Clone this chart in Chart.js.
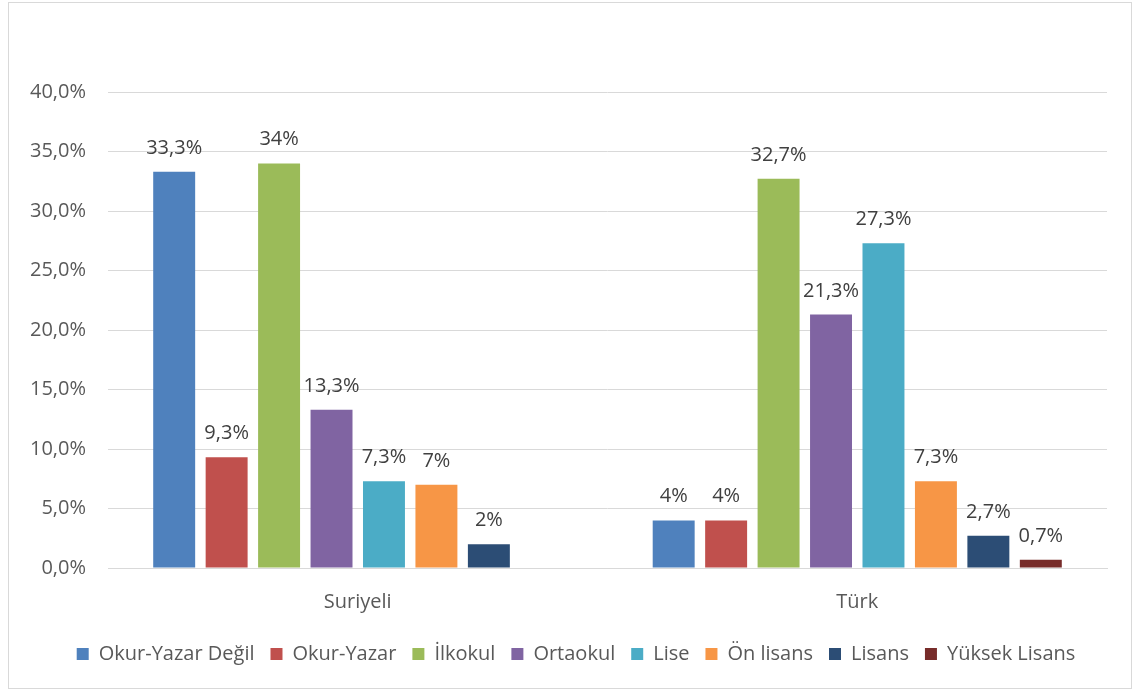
<!DOCTYPE html>
<html>
<head>
<meta charset="utf-8">
<script src="https://cdn.jsdelivr.net/npm/chart.js@4.4.0/dist/chart.umd.min.js"></script>
<style>
  html, body { margin: 0; padding: 0; background: #fff; }
  #wrap {
    position: absolute; left: 8px; top: 2px; width: 1124px; height: 687px;
    border: 1px solid #d9d9d9; box-sizing: border-box;
  }
  canvas { display: block; }
</style>
</head>
<body>
<div id="wrap"><canvas id="myChart"></canvas></div>
<script>
const categories = ["Suriyeli", "Türk"];
const seriesNames = ["Okur-Yazar Değil", "Okur-Yazar", "İlkokul", "Ortaokul", "Lise", "Ön lisans", "Lisans", "Yüksek Lisans"];
const seriesColors = ["#4F81BD", "#C0504D", "#9BBB59", "#8064A2", "#4BACC6", "#F79646", "#2C4D75", "#772C2A"];
// values in percent, [Suriyeli, Türk]
const okurYazarDegil = [33.3, 4];
const okurYazar = [9.3, 4];
const ilkokul = [34, 32.7];
const ortaokul = [13.3, 21.3];
const lise = [7.3, 27.3];
const onLisans = [7, 7.3];
const lisans = [2, 2.7];
const yuksekLisans = [null, 0.7];
const seriesValues = [okurYazarDegil, okurYazar, ilkokul, ortaokul, lise, onLisans, lisans, yuksekLisans];

const textColor = "#595959";
const fontFamily = "'Open Sans', 'Noto Sans', sans-serif";
const fontSize = 20;

function fmtLabel(v) {
    let s = (Math.round(v * 10) / 10).toString().replace('.', ',');
    return s + "%";
}

// draw value labels above the bars (no datalabels plugin available)
const barLabels = {
    id: 'barLabels',
    afterDatasetsDraw(chart) {
        const ctx = chart.ctx;
        ctx.save();
        ctx.font = fontSize + "px " + fontFamily;
        ctx.fillStyle = "#404040";
        ctx.textAlign = "center";
        ctx.textBaseline = "alphabetic";
        chart.data.datasets.forEach((ds, i) => {
            const meta = chart.getDatasetMeta(i);
            meta.data.forEach((bar, j) => {
                const v = ds.data[j];
                if (v === null || v === undefined) return;
                ctx.fillText(fmtLabel(v), bar.x, bar.y - 18);
            });
        });
        ctx.restore();
    }
};

// legend sits a bit right of centre in the original
const legendShift = {
    id: 'legendShift',
    afterLayout(chart) {
        chart.legend.left += 18;
        chart.legend.right += 18;
    }
};

const ctx = document.getElementById('myChart').getContext('2d');
const myChart = new Chart(ctx, {
    type: 'bar',
    data: {
        labels: categories,
        datasets: seriesNames.map((name, i) => ({
            label: name,
            data: seriesValues[i],
            backgroundColor: seriesColors[i],
            barPercentage: 0.8,
            categoryPercentage: 0.84,
        }))
    },
    options: {
        responsive: true,
        maintainAspectRatio: false,
        animation: false,
        layout: { padding: { top: 89, right: 24, left: 0, bottom: 14 } },
        plugins: {
            tooltip: { enabled: false },
            legend: {
                position: 'bottom',
                labels: {
                    boxWidth: 12,
                    boxHeight: 12,
                    padding: 16,
                    color: textColor,
                    font: { size: fontSize, family: fontFamily }
                }
            }
        },
        scales: {
            x: {
                grid: { display: false },
                border: { color: "#d9d9d9" },
                ticks: {
                    color: textColor,
                    padding: 14,
                    font: { size: fontSize, family: fontFamily }
                }
            },
            y: {
                min: 0,
                max: 40,
                border: { display: false },
                grid: { color: "#d9d9d9", drawTicks: false },
                afterFit: axis => { axis.width = 99; },
                ticks: {
                    stepSize: 5,
                    padding: 22,
                    color: textColor,
                    font: { size: fontSize, family: fontFamily },
                    callback: v => v.toFixed(1).replace('.', ',') + "%"
                }
            }
        }
    },
    plugins: [barLabels, legendShift]
});
</script>
</body>
</html>
